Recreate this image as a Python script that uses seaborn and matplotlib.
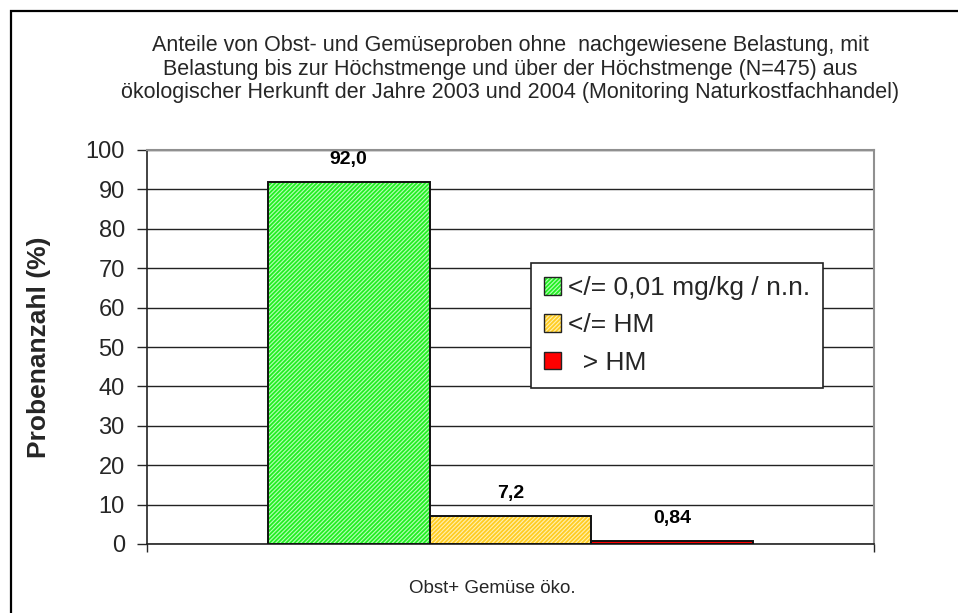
import pandas as pd
import matplotlib
matplotlib.use("Agg")
import matplotlib.pyplot as plt
import seaborn as sns
from matplotlib.patches import Patch, Rectangle
from matplotlib.legend_handler import HandlerTuple

# ---------------------------------------
# Daten
# ---------------------------------------
kategorie = ["Obst+ Gemüse öko."]
serien = ["</= 0,01 mg/kg / n.n.", "</= HM", "  > HM"]
werte = [92.0, 7.2, 0.84]
wert_labels = ["92,0", "7,2", "0,84"]

face_farben = ["#B8FFB8", "#FFF0B0", "#FF0000"]
hatch_farben = ["#22EE22", "#FFCC22", "#FF0000"]
hatches = ["////////", "////////", ""]

titel = ("Anteile von Obst- und Gemüseproben ohne  nachgewiesene Belastung, mit\n"
         "Belastung bis zur Höchstmenge und über der Höchstmenge (N=475) aus\n"
         "ökologischer Herkunft der Jahre 2003 und 2004 (Monitoring Naturkostfachhandel)")

df = pd.DataFrame({
    "kategorie": kategorie * len(serien),
    "serie": serien,
    "wert": werte,
})

# ---------------------------------------
# Stil
# ---------------------------------------
sns.set_style("white")
plt.rcParams["font.family"] = ["Liberation Sans", "DejaVu Sans"]
plt.rcParams["hatch.linewidth"] = 1.3

fig = plt.figure(figsize=(9.58, 6.13), dpi=100)
ax = fig.add_axes([147 / 958, 1 - 544 / 613, 727 / 958, 394 / 613])

sns.barplot(data=df, x="kategorie", y="wert", hue="serie", hue_order=serien,
            palette=face_farben, width=0.668, ax=ax, legend=False, zorder=3)

# Schraffur + schwarzer Rahmen
for i, cont in enumerate(ax.containers):
    for bar in cont:
        bar.set_facecolor(face_farben[i])
        bar.set_hatch(hatches[i])
        bar.set_edgecolor(hatch_farben[i])
        bar.set_linewidth(0)
        rahmen = Rectangle((bar.get_x(), bar.get_y()), bar.get_width(), bar.get_height(),
                           fill=False, edgecolor="#111111", linewidth=1.4, zorder=4)
        ax.add_patch(rahmen)
    ax.bar_label(cont, labels=[wert_labels[i]], padding=10, fontsize=14,
                 fontweight="bold", color="black", zorder=5)

# Achsen
ax.set_xlim(-0.5, 0.5)
ax.set_ylim(0, 100)
ax.set_yticks(range(0, 101, 10))
ax.set_xticks([-0.5, 0.5])
ax.set_xticklabels([])
ax.tick_params(axis="y", direction="out", length=7, width=1, pad=9, labelsize=17, left=True)
ax.tick_params(axis="x", direction="out", length=6, width=1, bottom=True)
ax.yaxis.grid(True, color="#222222", linewidth=1, zorder=0)
ax.set_axisbelow(True)

for s in ["top", "right"]:
    ax.spines[s].set_color("#909090")
    ax.spines[s].set_linewidth(1.5)
for s in ["left", "bottom"]:
    ax.spines[s].set_color("#222222")
    ax.spines[s].set_linewidth(1.2)

ax.set_ylabel("Probenanzahl (%)", fontsize=19, fontweight="bold")
ax.yaxis.set_label_coords(-0.132, 0.5)
ax.set_xlabel(kategorie[0], fontsize=13.5)
ax.xaxis.set_label_coords(0.475, -0.092)

# Legende
handles = []
for i in range(len(serien)):
    h1 = Patch(facecolor=face_farben[i], hatch=hatches[i], edgecolor=hatch_farben[i], linewidth=0)
    h2 = Patch(facecolor="none", edgecolor="#222222", linewidth=1)
    handles.append((h1, h2))
leg = ax.legend(handles, serien, handler_map={tuple: HandlerTuple(ndivide=1)},
                loc="upper left", bbox_to_anchor=(0.528, 0.713), fontsize=19,
                frameon=True, fancybox=False, framealpha=1, edgecolor="#222222",
                handlelength=0.65, handleheight=0.65, handletextpad=0.25,
                borderpad=0.5, labelspacing=0.5, borderaxespad=0)
leg.get_frame().set_linewidth(1.2)
leg.set_zorder(6)

# Titel
fig.text(510 / 958, 1 - 69 / 613, titel, ha="center", va="center", fontsize=15.5,
         linespacing=1.15)

# Außenrahmen
fig.add_artist(Rectangle((11 / 958, -0.2), 1.2, 1.2 - 11 / 613, transform=fig.transFigure,
                         fill=False, edgecolor="black", linewidth=1.6))

fig.savefig("out.png", dpi=100)
